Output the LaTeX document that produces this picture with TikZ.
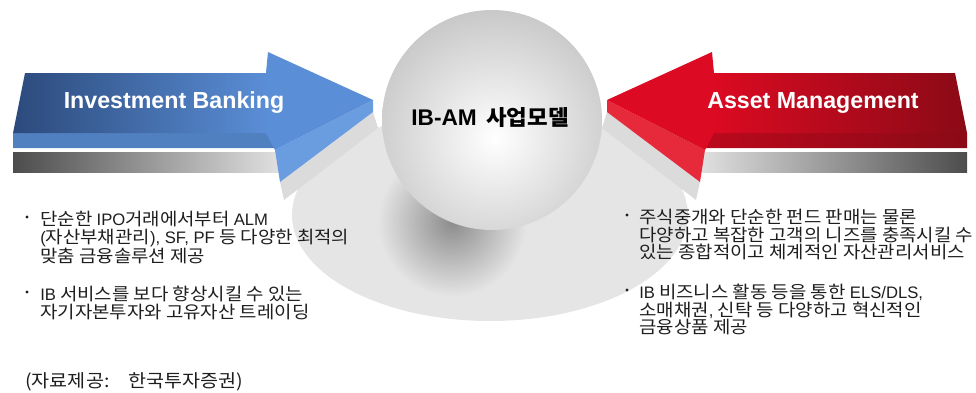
\documentclass[tikz,border=0pt]{standalone}
\usepackage{fontspec}
\setmainfont{Noto Sans CJK KR}
\newfontfamily\notefont[FakeStretch=1.09]{Noto Sans CJK KR}
\newfontfamily\ballfont[FakeStretch=1.05]{Noto Sans CJK KR}
\newfontfamily\labelfont{Liberation Sans}
\newfontfamily\latfont[Scale=0.96]{Liberation Sans}
\newcommand\lat[1]{{\latfont #1}}
\usetikzlibrary{positioning}

\definecolor{ibdark}{HTML}{2C4A7C}
\definecolor{iblight}{HTML}{5A8ED6}
\definecolor{ibside}{HTML}{6A9CE0}
\definecolor{amdark}{HTML}{8A0A16}
\definecolor{amlight}{HTML}{DC0A22}
\definecolor{amside}{HTML}{E62A3C}
\definecolor{bodytext}{HTML}{1E1E1E}

\tikzset{
  armlabel/.style={font=\labelfont\bfseries\fontsize{17.4}{20}\selectfont, text=white, inner sep=0pt},
  balllabel/.style={font=\ballfont\bfseries\fontsize{16}{19}\selectfont, text=black, inner sep=0pt},
  itemtext/.style={font=\notefont\fontsize{13}{13.2}\selectfont, text=bodytext, align=left, anchor=north west, inner sep=0pt},
  itemdot/.style={circle, fill=bodytext, inner sep=0pt, minimum size=2.6pt},
}

\begin{document}
\begin{tikzpicture}[x=0.75pt,y=-0.75pt]
  \useasboundingbox (0,0) rectangle (976,393);

  % floor disc with the shadow of the ball
  \begin{scope}
    \clip (490,215) ellipse [x radius=198, y radius=106];
    \fill[black!10] (490,215) ellipse [x radius=198, y radius=106];
    \shade[inner color=black!45, outer color=black!10] (452,222) circle (75);
  \end{scope}

  % floor shadows of the arrow heads
  \fill[black!14] (280,182)--(373,112)--(378,128)--(284,200)--cycle;
  \fill[black!14] (700,182)--(607,112)--(602,128)--(696,200)--cycle;

  % left arrow
  \shade[left color=black!70, right color=black!12] (13,152)--(280,152)--(280,172)--(13,172)--cycle;
  \fill[iblight!90!black] (13,133)--(276,133)--(277,148)--(13,148)--cycle;
  \shade[left color=ibdark, right color=iblight] (25,73)--(268,73)--(268,133)--(13,133)--cycle;
  \fill[ibside] (373,100)--(373,112)--(280,182)--(275,150)--cycle;
  \fill[iblight] (266,73)--(268,52)--(373,100)--(275,150)--(266,133)--cycle;

  % right arrow
  \shade[left color=black!12, right color=black!70] (700,152)--(967,152)--(967,172)--(700,172)--cycle;
  \shade[left color=amlight!85!black, right color=amdark] (704,133)--(967,133)--(967,148)--(703,148)--cycle;
  \shade[left color=amlight, right color=amdark] (712,73)--(955,73)--(967,133)--(712,133)--cycle;
  \fill[amside] (607,100)--(607,112)--(700,182)--(705,150)--cycle;
  \fill[amlight] (714,73)--(712,52)--(607,100)--(705,150)--(714,133)--cycle;

  % ball
  \begin{scope}
    \clip (492,120) circle (110);
    \shade[inner color=white, outer color=black!22] (495,138) circle (132);
  \end{scope}

  \node[armlabel] (ib) at (174,103) {Investment Banking};
  \node[armlabel] (am) at (813,103) {Asset Management};
  \node[balllabel] (model) at (490,118) {{\labelfont\fontsize{17}{19}\selectfont IB-AM}\hspace{7pt}사업모델};

  % notes under the left arrow
  \node[itemtext] (ib1) at (40,211) {단순한 \lat{IPO}거래에서부터 \lat{ALM}\\\lat{(}자산부채관리\lat{), SF, PF} 등 다양한 최적의\\맞춤 금융솔루션 제공};
  \node[itemtext] (ib2) at (40,286) {\lat{IB} 서비스를 보다 향상시킬 수 있는\\자기자본투자와 고유자산 트레이딩};
  \node[itemdot] (ibd1) at (27,217) {};
  \node[itemdot] (ibd2) at (27,292) {};

  % notes under the right arrow
  \node[itemtext] (am1) at (639,209) {주식중개와 단순한 펀드 판매는 물론\\다양하고 복잡한 고객의 니즈를 충족시킬 수\\있는 종합적이고 체계적인 자산관리서비스};
  \node[itemtext] (am2) at (639,284) {\lat{IB} 비즈니스 활동 등을 통한 \lat{ELS/DLS,}\\소매채권\lat{,} 신탁 등 다양하고 혁신적인\\금융상품 제공};
  \node[itemdot] (amd1) at (627,215) {};
  \node[itemdot] (amd2) at (627,290) {};

  \node[itemtext, anchor=west, font=\notefont\fontsize{13.5}{15}\selectfont] (src) at (25,382) {(자료제공:\hspace{14pt}한국투자증권)};
\end{tikzpicture}
\end{document}
